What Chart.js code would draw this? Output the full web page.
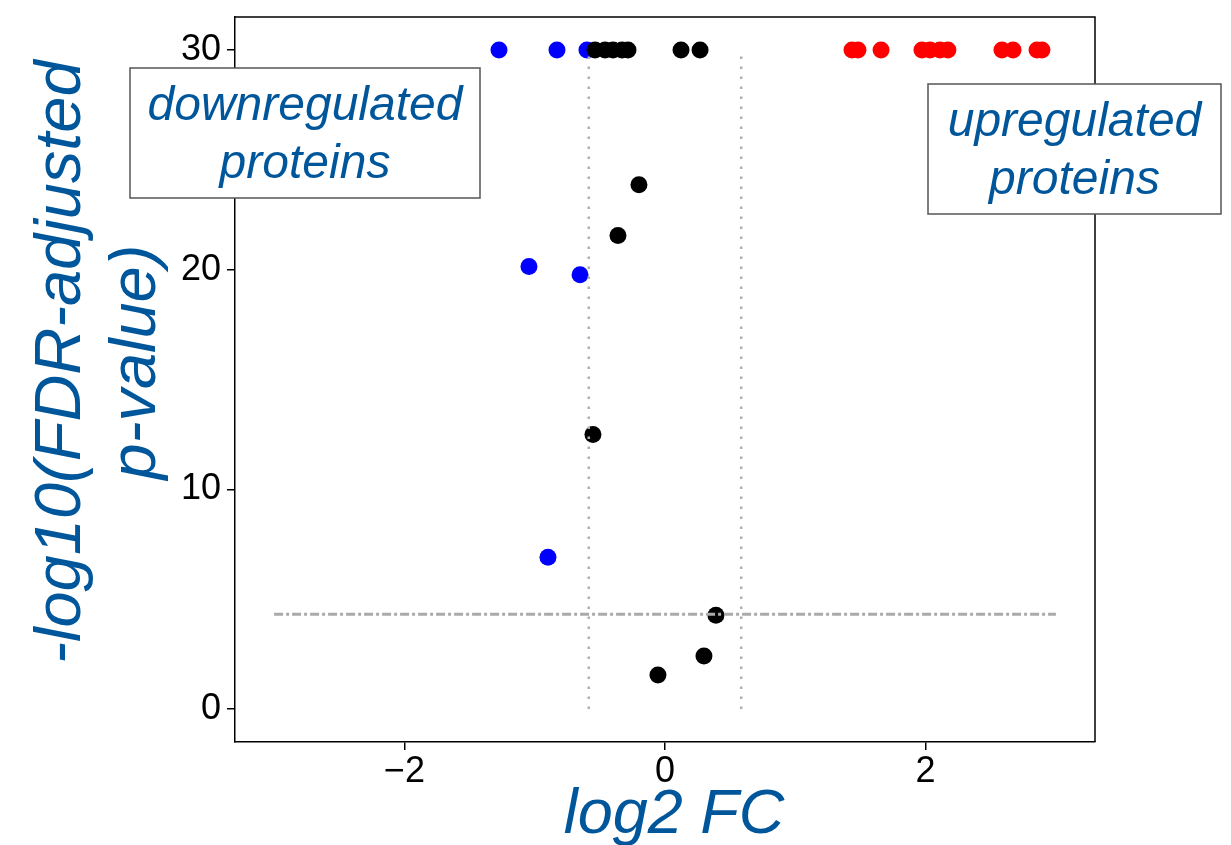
<!DOCTYPE html>
<html>
<head>
<meta charset="utf-8">
<script src="https://cdn.jsdelivr.net/npm/chart.js@4/dist/chart.umd.min.js"></script>
<style>
  html, body { margin: 0; padding: 0; background: #fff; }
  #wrap { width: 1231px; height: 845px; }
</style>
</head>
<body>
<div id="wrap"><canvas id="volcano"></canvas></div>
<script>
// log2 fold change / -log10 adjusted p per protein group
var downX = [-1.274, -0.829, -0.599, -1.044, -0.652, -0.898];
var downY = [30, 30, 30, 20.14, 19.77, 6.91];

var upX = [1.435, 1.481, 1.658, 1.972, 2.034, 2.110, 2.171, 2.586, 2.671, 2.855, 2.893];
var upY = [30, 30, 30, 30, 30, 30, 30, 30, 30, 30, 30];

var nsX = [-0.537, -0.460, -0.399, -0.330, -0.284, 0.123, 0.269, -0.200, -0.361, -0.553, 0.391, 0.299, -0.054];
var nsY = [30, 30, 30, 30, 30, 30, 30, 23.86, 21.55, 12.5, 4.27, 2.41, 1.55];

// cut-offs
var fcCut = 0.585;
var pCut = 4.32;
var cutXRange = [-3, 3];
var cutYRange = [0, 30];

var xTicks = [-2, 0, 2];
var yTicks = [0, 10, 20, 30];

var xTitle = 'log2 FC';
var yTitle = ['-log10(FDR-adjusted', 'p-value)'];

var titleBlue = '#00569a';
var fontFam = '"Liberation Sans", Arial, sans-serif';

function pts(xs, ys) {
  return xs.map(function (x, i) { return { x: x, y: ys[i] }; });
}

function minus(v) {
  return v < 0 ? '\u2212' + Math.abs(v) : '' + v;
}

// axis titles, labelled boxes, top/right frame
var decoPlugin = {
  id: 'deco',
  afterDraw: function (chart) {
    var ctx = chart.ctx;
    var a = chart.chartArea;
    ctx.save();
    ctx.strokeStyle = '#000';
    ctx.lineWidth = 1.5;
    ctx.beginPath();
    ctx.moveTo(a.left, a.top);
    ctx.lineTo(a.right, a.top);
    ctx.lineTo(a.right, a.bottom);
    ctx.stroke();

    // titles
    ctx.fillStyle = titleBlue;
    ctx.textAlign = 'center';
    ctx.textBaseline = 'alphabetic';
    ctx.font = 'italic 63px ' + fontFam;
    ctx.fillText(xTitle, 674, 833);

    ctx.save();
    ctx.translate(0, 362);
    ctx.rotate(-Math.PI / 2);
    ctx.font = 'italic 65px ' + fontFam;
    ctx.fillText(yTitle[0], 0, 80);
    ctx.fillText(yTitle[1], 0, 155);
    ctx.restore();

    var boxes = [
      { x: 130, y: 68, w: 350, h: 130, lines: ['downregulated', 'proteins'] },
      { x: 928, y: 84, w: 293, h: 130, lines: ['upregulated', 'proteins'] }
    ];
    boxes.forEach(function (b) {
      ctx.fillStyle = '#fff';
      ctx.fillRect(b.x, b.y, b.w, b.h);
      ctx.strokeStyle = '#555';
      ctx.lineWidth = 1.5;
      ctx.strokeRect(b.x, b.y, b.w, b.h);
      ctx.fillStyle = titleBlue;
      ctx.font = 'italic 48px ' + fontFam;
      ctx.textAlign = 'center';
      ctx.textBaseline = 'middle';
      var cx = b.x + b.w / 2;
      ctx.fillText(b.lines[0], cx, b.y + 39);
      ctx.fillText(b.lines[1], cx, b.y + 97);
    });
    ctx.restore();
  }
};

var ctx = document.getElementById('volcano');
var volcano = new Chart(ctx, {
  type: 'scatter',
  data: {
    datasets: [
      {
        label: 'fc cut low',
        data: [{ x: -fcCut, y: cutYRange[0] }, { x: -fcCut, y: cutYRange[1] }],
        showLine: true,
        borderColor: '#b0b0b0',
        borderWidth: 2.5,
        borderDash: [2.5, 7.5],
        pointRadius: 0,
        order: 0
      },
      {
        label: 'fc cut high',
        data: [{ x: fcCut, y: cutYRange[0] }, { x: fcCut, y: cutYRange[1] }],
        showLine: true,
        borderColor: '#b0b0b0',
        borderWidth: 2.5,
        borderDash: [2.5, 7.5],
        pointRadius: 0,
        order: 0
      },
      {
        label: 'p cut',
        data: [{ x: cutXRange[0], y: pCut }, { x: cutXRange[1], y: pCut }],
        showLine: true,
        borderColor: '#aaaaaa',
        borderWidth: 3,
        borderDash: [9, 3, 3, 3],
        pointRadius: 0,
        order: 0
      },
      {
        label: 'not significant',
        data: pts(nsX, nsY),
        backgroundColor: '#000000',
        borderWidth: 0,
        pointRadius: 8.5,
        order: 1
      },
      {
        label: 'down',
        data: pts(downX, downY),
        backgroundColor: '#0000ff',
        borderWidth: 0,
        pointRadius: 8.5,
        order: 2
      },
      {
        label: 'up',
        data: pts(upX, upY),
        backgroundColor: '#ff0000',
        borderWidth: 0,
        pointRadius: 8.5,
        order: 2
      }
    ]
  },
  options: {
    responsive: true,
    maintainAspectRatio: false,
    animation: false,
    layout: {
      padding: { top: 17, right: 136, bottom: 0, left: 0 }
    },
    plugins: {
      legend: { display: false },
      tooltip: { enabled: false }
    },
    scales: {
      x: {
        type: 'linear',
        min: -3.3,
        max: 3.3,
        afterBuildTicks: function (scale) {
          scale.ticks = xTicks.map(function (v) { return { value: v }; });
        },
        afterFit: function (scale) {
          scale.height = 103;
          scale.paddingLeft = 0;
          scale.paddingRight = 0;
        },
        grid: {
          drawOnChartArea: false,
          drawTicks: true,
          tickLength: 8,
          color: '#000',
          lineWidth: 1.5
        },
        border: { display: true, color: '#000', width: 1.5 },
        ticks: {
          padding: 0,
          color: '#000',
          font: { family: fontFam, size: 36 },
          callback: function (v) { return minus(v); }
        }
      },
      y: {
        type: 'linear',
        min: -1.5,
        max: 31.5,
        afterBuildTicks: function (scale) {
          scale.ticks = yTicks.map(function (v) { return { value: v }; });
        },
        afterFit: function (scale) {
          scale.width = 235;
          scale.paddingTop = 0;
          scale.paddingBottom = 0;
        },
        grid: {
          drawOnChartArea: false,
          drawTicks: true,
          tickLength: 8,
          color: '#000',
          lineWidth: 1.5
        },
        border: { display: true, color: '#000', width: 1.5 },
        ticks: {
          padding: 6,
          color: '#000',
          font: { family: fontFam, size: 36 },
          callback: function (v) { return minus(v); }
        }
      }
    }
  },
  plugins: [decoPlugin]
});
</script>
</body>
</html>
